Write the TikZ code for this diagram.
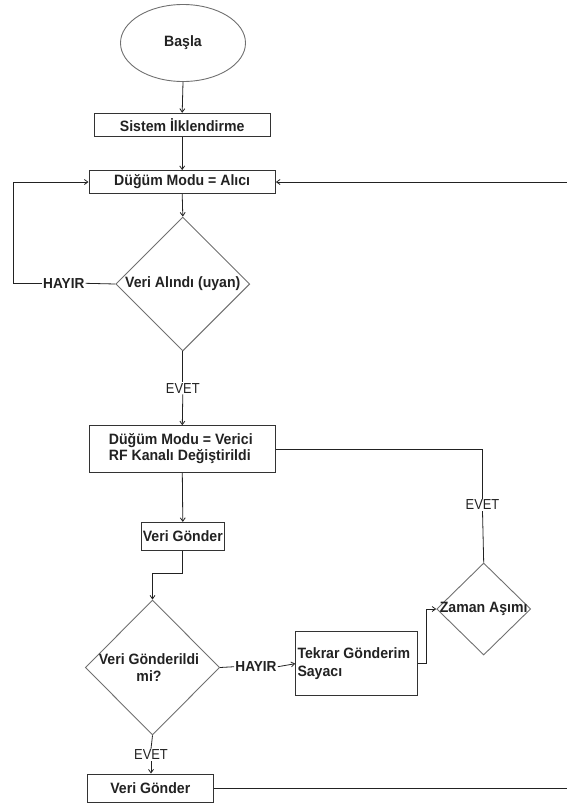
\documentclass[tikz,border=0pt]{standalone}
\usepackage{fontspec}
\setmainfont{Liberation Sans}
\newfontfamily\boxsans[FakeStretch=0.94]{Liberation Sans}
\newfontfamily\tagsans[FakeStretch=0.89]{Liberation Sans}
\usetikzlibrary{shapes.geometric,arrows.meta}

\definecolor{ink}{HTML}{222222}
\definecolor{boxline}{HTML}{333333}
\definecolor{shapeline}{HTML}{707070}

\tikzset{
  txt/.style={font=\boxsans\fontsize{15}{17.5}\selectfont\bfseries, text=ink},
  lbl/.style={font=\boxsans\fontsize{14.5}{16}\selectfont\bfseries, text=ink, inner sep=1pt},
  yes/.style={font=\tagsans\fontsize{14.5}{16}\selectfont, text=ink, inner sep=1pt, fill=white},
  procbox/.style={draw=boxline, line width=0.9pt, rectangle, inner sep=0pt},
  decision/.style={draw=shapeline, line width=0.9pt, diamond, inner sep=0pt},
  terminal/.style={draw=shapeline, line width=0.9pt, ellipse, inner sep=0pt},
  conn/.style={draw=ink, line width=0.8pt},
  arr/.style={conn, -{Straight Barb[length=3.5pt,width=5pt]}},
}

\begin{document}
\begin{tikzpicture}[x=1pt,y=-1pt]
\useasboundingbox (0,0) rectangle (566,807);

% process shapes
\node[terminal, minimum width=125, minimum height=77, label={[txt]center:Başla}] (start) at (183,43) {};
\node[procbox, minimum width=176, minimum height=23.5, txt] (init) at (182.2,125) {Sistem İlklendirme};
\node[procbox, minimum width=186.5, minimum height=23, txt] (recv) at (182.2,182) {Düğüm Modu = Alıcı};
\node[decision, minimum width=134, minimum height=134, label={[txt]center:Veri Alındı (uyan)}] (dec1) at (182.8,284) {};
\node[procbox, minimum width=186.7, minimum height=46.6] (mode) at (182.3,449) {};
\node[txt, anchor=west, align=left, inner sep=0pt, font=\boxsans\fontsize{15}{16.5}\selectfont\bfseries] (modetxt) at (108.7,448.5)
  {Düğüm Modu = Verici\\RF Kanalı Değiştirildi};
\node[procbox, minimum width=82.3, minimum height=27.7, label={[txt]center:Veri Gönder}] (send1) at (182.8,536.2) {};
\node[decision, minimum width=134.3, minimum height=135] (dec2) at (152.5,667.5) {};
\node[txt, align=center, inner sep=0pt] (dec2txt) at (149,667.5) {Veri Gönderildi\\mi?};
\node[procbox, minimum width=122, minimum height=64] (retry) at (356.7,663.7) {};
\node[txt, anchor=west, align=left, inner sep=0pt] (retrytxt) at (297.3,663.8)
  {Tekrar Gönderim\\Sayacı};
\node[decision, minimum width=94, minimum height=92, label={[txt]center:Zaman Aşımı}] (tout) at (483.7,609) {};
\node[procbox, minimum width=126, minimum height=28.7, txt] (send2) at (150.3,788.3) {Veri Gönder};

% branch labels
\node[lbl] (no1) at (63.8,283.3) {HAYIR};
\node[yes] (yes1) at (182.8,388.3) {EVET};
\node[yes] (yes2) at (482.5,505) {EVET};
\node[lbl] (no2) at (256,666.7) {HAYIR};
\node[yes] (yes3) at (151,755) {EVET};

% helper points
\coordinate (loopL) at (13.3,283.3);
\coordinate (bend1) at (182.8,573.3);
\coordinate (bend2) at (152.5,573.3);
\coordinate (retryR) at (426.7,663.7);
\coordinate (edgeB) at (568,788.3);
\coordinate (edgeT) at (568,182);

% connectors
\draw[arr] (start.south) -- (init.north);
\draw[arr] (init.south) -- (recv.north);
\draw[arr] (recv.south) -- (dec1.north);
\draw[conn] (dec1.west) -- (no1.east);
\draw[arr] (no1.west) -- (loopL) |- (recv.west);
\draw[conn] (dec1.south) -- (yes1.north);
\draw[arr] (yes1.south) -- (mode.north);
\draw[arr] (mode.south) -- (send1.north);
\draw[conn] (mode.east) -| (yes2.north);
\draw[conn] (yes2.south) -- (tout.north);
\draw[conn] (send1.south) -- (bend1) -- (bend2);
\draw[arr] (bend2) -- (dec2.north);
\draw[conn] (dec2.east) -- (no2.west);
\draw[arr] (no2.east) -- (retry.west);
\draw[arr] (retry.east) -- (retryR) |- (tout.west);
\draw[conn] (dec2.south) -- (yes3.north);
\draw[arr] (yes3.south) -- (yes3.south |- send2.north);
\draw[arr] (send2.east) -- (edgeB) -- (edgeT) -- (recv.east);
\end{tikzpicture}
\end{document}
